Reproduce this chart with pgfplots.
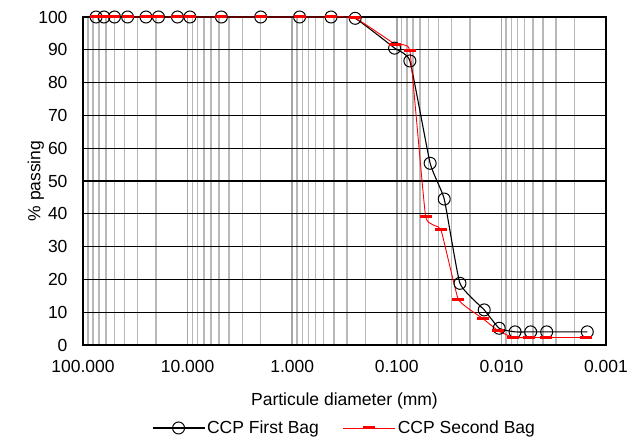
\documentclass[border=0pt]{standalone}
\usepackage{fontspec}
\setmainfont{Liberation Sans}
\usepackage{pgfplots}
\pgfplotsset{compat=1.18}
\begin{document}
\begin{tikzpicture}[font=\fontsize{17.5bp}{20bp}\selectfont]
\useasboundingbox (-83bp,-97bp) rectangle (556bp,345bp);
\begin{axis}[
  scale only axis, width=523bp, height=328bp,
  at={(0,0)}, anchor=south west,
  xmode=log, x dir=reverse, xmin=0.001, xmax=100,
  ymin=0, ymax=100,
  xtick={0.001,0.01,0.1,1,10,100},
  xticklabels={0.001,0.010,0.100,1.000,10.000,100.000},
  minor xtick={0.002,0.003,0.004,0.005,0.006,0.007,0.008,0.009,
               0.02,0.03,0.04,0.05,0.06,0.07,0.08,0.09,
               0.2,0.3,0.4,0.5,0.6,0.7,0.8,0.9,
               2,3,4,5,6,7,8,9,
               20,30,40,50,60,70,80,90},
  ytick={0,10,...,100},
  xmajorgrids, xminorgrids, ymajorgrids,
  major x grid style={black!35, line width=1.5bp},
  minor x grid style={black!28, line width=1.5bp},
  major y grid style={black, line width=1.2bp},
  axis line style={black, line width=1.8bp},
  tick style={draw=none},
  /pgf/number format/assume math mode=true,
  yticklabel style={xshift=-12bp},
  xticklabel style={yshift=-12bp},
  xlabel={Particule diameter (mm)},
  ylabel={\% passing},
  xlabel style={at={(axis description cs:0.5,-0.170)},anchor=center},
  ylabel style={at={(axis description cs:-0.090,0.5)},anchor=center},
  legend style={at={(0.5,-0.253)},anchor=center,draw=none,fill=none,
    legend columns=2,
    /tikz/every even column/.append style={column sep=22bp}},
  legend cell align=left,
  legend image code/.code={\draw[mark repeat=2,mark phase=2,#1]
     plot coordinates {(0bp,0bp)(26bp,0bp)(52bp,0bp)};},
  clip=false,
]
\addplot[black, line width=1.1bp, smooth, tension=0.25,
  mark=o, mark size=6bp, mark options={solid, fill=white, line width=1bp}]
  coordinates {
  (75,100) (63,100) (50,100) (37.5,100) (25,100) (19,100) (12.5,100) (9.5,100)
  (4.75,100) (2.0,100) (0.85,100) (0.425,100) (0.25,99.6)
  (0.105,90.5) (0.075,86.6) (0.048,55.4) (0.0352,44.5) (0.0249,18.8)
  (0.0146,10.7) (0.0105,5.1) (0.0074,4.0) (0.00525,4.0) (0.00369,4.0) (0.00151,4.0)
  };
\addlegendentry{CCP First Bag}
\addplot[red, line width=0.9bp, smooth, tension=0.2,
  mark=-, mark size=6bp, mark options={solid, line width=3bp}]
  coordinates {
  (75,100) (63,100) (50,100) (37.5,100) (25,100) (19,100) (12.5,100) (9.5,100)
  (4.75,100) (2.0,100) (0.85,100) (0.425,100) (0.25,99.7)
  (0.104,91.7) (0.075,89.7) (0.053,39.1) (0.038,35.3) (0.0258,13.9)
  (0.0151,8.1) (0.0107,4.3) (0.0077,2.3) (0.0054,2.3) (0.00375,2.3) (0.00156,2.3)
  };
\addlegendentry{CCP Second Bag}
\end{axis}
\end{tikzpicture}
\end{document}
